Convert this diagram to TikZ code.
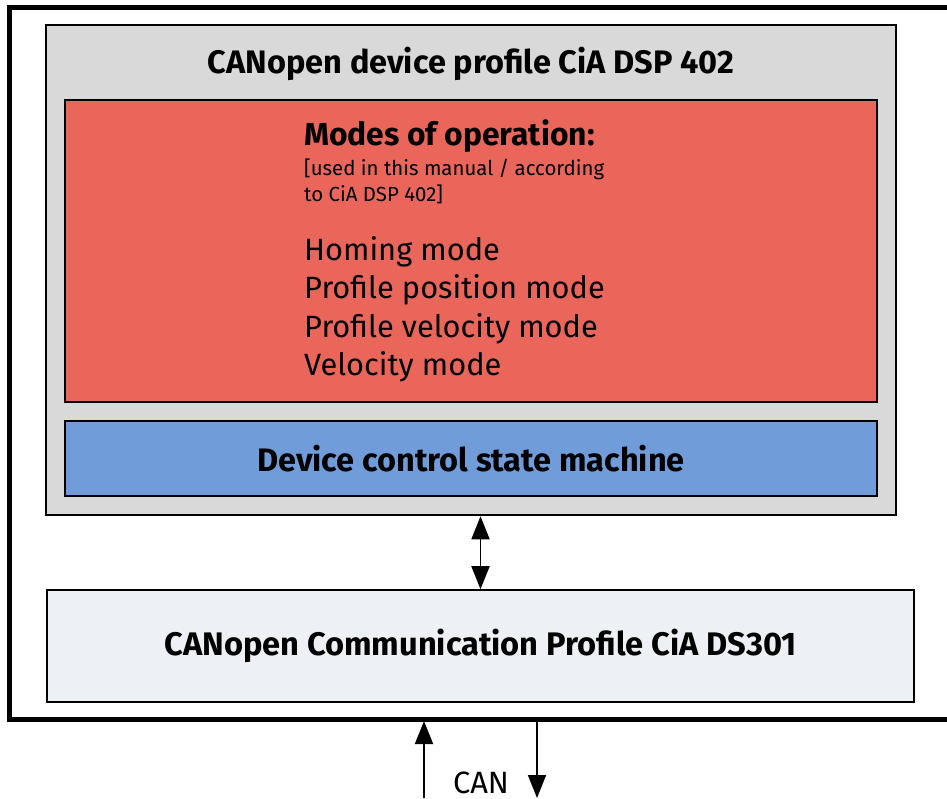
\documentclass[tikz,border=0pt]{standalone}
\usepackage{fontspec}
\setmainfont{Fira Sans}
\usetikzlibrary{arrows.meta,positioning}
\definecolor{profgray}{HTML}{D9D9D9}
\definecolor{modered}{HTML}{EA665B}
\definecolor{statblue}{HTML}{709DDA}
\definecolor{commgray}{HTML}{EDF0F5}
\begin{document}
\begin{tikzpicture}[x=1pt,y=-1pt,
  box/.style={draw=black,line width=2.5pt,inner sep=0pt},
  dblarrow/.style={{Triangle[length=23pt,width=18pt]}-{Triangle[length=23pt,width=18pt]},line width=1.8pt},
  canarrow/.style={-{Triangle[length=23pt,width=18pt]},line width=1.8pt}]

  \useasboundingbox (0,0) rectangle (947,798);
  \draw[line width=5pt] (947,7) -- (9.5,7) -- (9.5,719) -- (947,719);

  \node[box,fill=profgray,minimum width=850pt,minimum height=490pt] (device) at (471,270) {};
  \node[font=\fontsize{32.5}{36}\selectfont\bfseries] (title) at (471,64) {CANopen device profile CiA DSP 402};
  \node[box,fill=modered,minimum width=812pt,minimum height=302pt] (modes) at (471,251) {};
  \node[box,fill=statblue,minimum width=812pt,minimum height=75pt,font=\fontsize{32.5}{36}\selectfont\bfseries] (dcsm) at (471,458.5) {Device control state machine};
  \node[draw=black,line width=1.6pt,fill=commgray,minimum width=867pt,minimum height=112pt,font=\fontsize{32.6}{36}\selectfont\bfseries] (comm) at (480.5,646) {CANopen Communication Profile CiA DS301};

  % text inside the red box
  \node[anchor=base west,inner sep=0pt,font=\fontsize{31.8}{34}\selectfont\bfseries] (head) at (304,145) {Modes of operation:};
  \node[anchor=base west,inner sep=0pt,font=\fontsize{20.4}{24}\selectfont] (note1) at (304,175) {[used in this manual / according};
  \node[anchor=base west,inner sep=0pt,font=\fontsize{20.4}{24}\selectfont] (note2) at (304,201) {to CiA DSP 402]};
  \foreach \m [count=\i] in {Homing mode,Profile position mode,Profile velocity mode,Velocity mode}
    \node[anchor=base west,inner sep=0pt,font=\fontsize{30.8}{34}\selectfont] (mode\i) at (304,221.5+38.5*\i) {\m};

  \draw[dblarrow] (comm.north) -- (comm.north |- device.south);
  \coordinate (canin) at (424,798);
  \coordinate (canout) at (537,721);
  \draw[canarrow] (canin) -- (424,721);
  \draw[canarrow] (canout) -- (537,798);
  \node[anchor=base,inner sep=0pt,font=\fontsize{30.8}{34}\selectfont] (can) at (481,793) {CAN};
\end{tikzpicture}
\end{document}
